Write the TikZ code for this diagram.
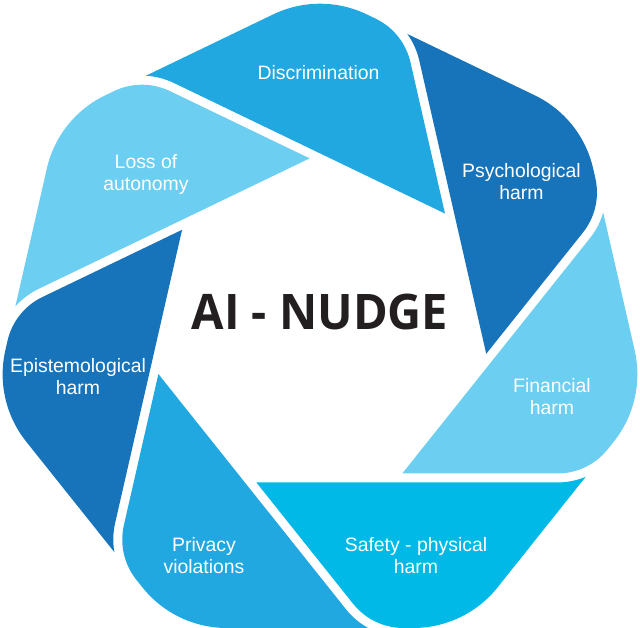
\documentclass[tikz,border=0pt]{standalone}
\usepackage{fontspec}
\setmainfont{Liberation Sans}
\newfontfamily\titlefont{Open Sans}
\usetikzlibrary{calc}
\definecolor{cMid}{HTML}{22A8E0}
\definecolor{cDark}{HTML}{1774BA}
\definecolor{cLight}{HTML}{6CCEF0}
\definecolor{cCyan}{HTML}{00B9E6}
\definecolor{cTitle}{HTML}{231F20}
\begin{document}
\begin{tikzpicture}[x=1pt,y=1pt,
  lbl/.style={text=white, font=\fontsize{19.4}{22.2}\selectfont, align=center, anchor=base, inner sep=0pt},
  titletext/.style={text=cTitle, font=\titlefont\bfseries\fontsize{49}{50}\selectfont, anchor=base, inner sep=0pt}]
\useasboundingbox (-320,-300.5) rectangle (320,326.5);
\clip (-320,-300.5) rectangle (320,326.5);
\foreach \k/\col in {0/cMid,1/cDark,2/cLight,3/cCyan,4/cMid,5/cDark,6/cLight}{
  \begin{scope}[rotate=-51.42857*\k]
    \coordinate (A) at (-174.23,250.72);
    \coordinate (B) at (0,334.64);
    \coordinate (C) at (83.59,294.38);
    \coordinate (D) at (125.0,112.95);
    \coordinate (T) at (-146.21,243.55);
    \coordinate (T1) at (-154.98,247.77);
    \coordinate (T2) at (-164.51,250.21);
    \fill[fill=\col] (A) -- ($(B)!52pt!(A)$)
      .. controls ($(B)!19.1pt!(A)$) and ($(B)!19.1pt!(C)$) .. ($(B)!52pt!(C)$)
      -- ($(C)!31pt!(B)$)
      .. controls ($(C)!11.4pt!(B)$) and ($(C)!11.4pt!(D)$) .. ($(C)!31pt!(D)$)
      -- (D) -- (T) .. controls (T1) and (T2) .. cycle;
  \end{scope}
}
\node[lbl] (disc) at (-1.5,246.5) {Discrimination};
\node[lbl] (psych) at (201.5,127) {Psychological\\harm};
\node[lbl] (fin) at (232,-88) {Financial\\harm};
\node[lbl] (safe) at (96,-247) {Safety - physical\\harm};
\node[lbl] (priv) at (-116,-247) {Privacy\\violations};
\node[lbl] (epi) at (-242,-68) {Epistemological\\harm};
\node[lbl] (loa) at (-174,135.5) {Loss of\\autonomy};
\node[titletext] (ai) at (0,-2.5) {\scalebox{0.96}[1]{AI - NUDGE}};
\end{tikzpicture}
\end{document}
